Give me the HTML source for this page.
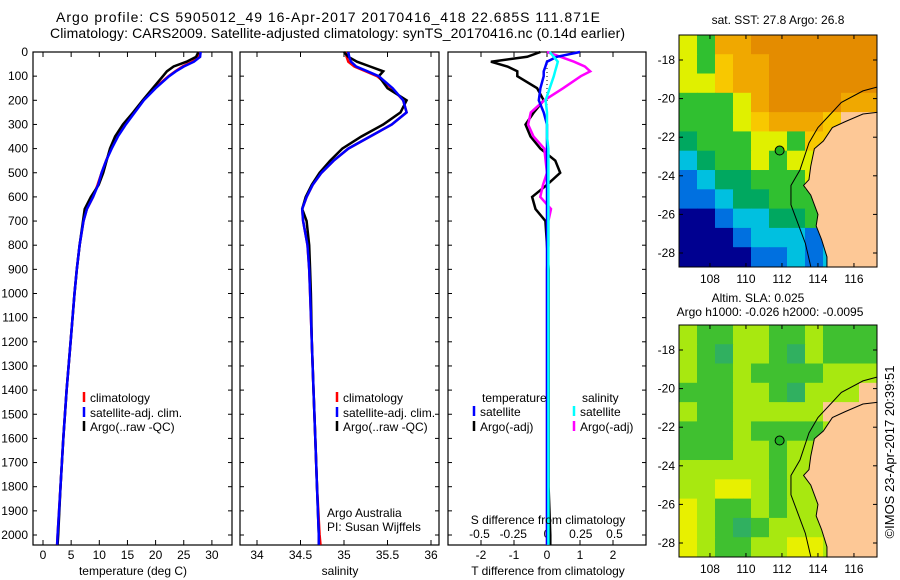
<!DOCTYPE html>
<html><head><meta charset="utf-8"><style>
body{margin:0;background:#fff;}
svg{display:block;font-family:"Liberation Sans",sans-serif;}
text{fill:#000;}
</style></head><body>
<svg id="fig" width="900" height="580" viewBox="0 0 900 580" xmlns="http://www.w3.org/2000/svg">
<text x="56" y="22" font-size="14" textLength="544" lengthAdjust="spacing">Argo profile: CS 5905012_49 16-Apr-2017 20170416_418 22.685S 111.871E</text>
<text x="50" y="38" font-size="14" textLength="575" lengthAdjust="spacing">Climatology: CARS2009. Satellite-adjusted climatology: synTS_20170416.nc (0.14d earlier)</text>
<g id="g1"></g>
<g id="g2"></g>
<g id="g3"></g>
<g id="m1"></g>
<g id="m2"></g>
<text x="778" y="24" font-size="12" text-anchor="middle">sat. SST: 27.8 Argo: 26.8</text>
<text x="758" y="302" font-size="12" text-anchor="middle">Altim. SLA: 0.025</text>
<text x="770" y="316" font-size="12" text-anchor="middle">Argo h1000: -0.026 h2000: -0.0095</text>
<text transform="translate(894,452) rotate(-90)" font-size="13" text-anchor="middle">©IMOS 23-Apr-2017 20:39:51</text>
</svg>
<script>
// ---- data ----
const depthTicks=[0,100,200,300,400,500,600,700,800,900,1000,1100,1200,1300,1400,1500,1600,1700,1800,1900,2000];
const tempTicks=[0,5,10,15,20,25,30];
const salTicks=[34,34.5,35,35.5,36];
const tdiffTicks=[-2,-1,0,1,2];
const sdiffTicks=[-0.5,-0.25,0,0.25,0.5];
const sdiffLabels=["-0.5","-0.25","0","0.25","0.5"];
const depths=[0,20,40,60,80,100,150,200,250,300,350,400,450,500,550,600,650,700,800,900,1000,1200,1400,1600,1800,2000,2040];
const tempClim=[27.8,27.6,26.5,24.8,23.5,22.3,19.8,17.8,16.2,14.6,13.2,12.1,11.2,10.4,9.7,8.9,7.8,7.2,6.5,6.0,5.6,4.9,4.2,3.6,3.1,2.6,2.5];
const tempSat=[28.0,27.9,26.8,25.0,23.6,22.4,20.0,17.9,16.3,14.7,13.3,12.2,11.2,10.4,9.8,8.9,7.8,7.2,6.5,6.0,5.6,4.9,4.2,3.6,3.1,2.6,2.5];
const tempArgo=[27.6,27.2,25.5,23.2,22.0,21.3,19.5,17.7,16.0,14.2,12.8,11.9,11.3,10.7,9.9,8.5,7.4,7.1,6.5,6.0,5.6,4.9,4.2,3.6,3.1,2.7,2.6];
const salClim=[35.02,35.03,35.05,35.12,35.25,35.38,35.55,35.68,35.72,35.55,35.3,35.05,34.88,34.74,34.64,34.57,34.52,34.53,34.58,34.6,34.61,34.63,34.65,34.67,34.69,34.72,34.73];
const salSat=[35.05,35.06,35.08,35.14,35.27,35.4,35.56,35.68,35.72,35.55,35.3,35.05,34.88,34.74,34.64,34.57,34.52,34.53,34.58,34.6,34.61,34.63,34.65,34.67,34.69,34.71,34.71];
const salArgo=[35.0,35.05,35.15,35.3,35.45,35.4,35.5,35.72,35.65,35.45,35.2,34.98,34.84,34.72,34.63,34.56,34.52,34.57,34.6,34.61,34.62,34.63,34.65,34.67,34.69,34.71,34.71];
const tdSat=[1.0,0.3,0.0,-0.05,-0.1,-0.1,-0.2,-0.25,-0.1,0.0,0.0,0.0,0.0,0.0,0.0,0.0,0.0,0.0,0.0,0.0,0.0,0.0,0.0,0.0,0.0,0.0,0.0];
const tdArgo=[-0.2,-0.6,-1.7,-1.2,-0.9,-0.9,-0.3,-0.1,-0.4,-0.65,-0.5,-0.2,0.25,0.4,0.0,-0.45,-0.35,-0.05,0.0,0.05,0.05,0.05,0.05,0.05,0.05,0.1,0.1];
const sdSat=[0.02,0.05,0.08,0.07,0.06,0.05,0.02,-0.01,0.0,0.0,0.0,0.01,0.01,0.01,0.01,0.01,0.01,0.01,0.01,0.01,0.01,0.01,0.01,0.01,0.01,0.01,0.01];
const sdArgo=[0.0,0.1,0.2,0.28,0.32,0.25,0.12,-0.02,-0.12,-0.14,-0.1,-0.02,-0.01,0.0,-0.03,-0.05,0.03,0.01,0.01,0.0,0.0,0.0,0.0,0.0,0.0,0.0,0.0];
// maps: rows lat -17..-28, cols lon 106.8..116.8
const sstRows=["YGooOOOOOOO","YGyooOOOOOO","YYyooOOOOOO","GGGYoOOOOoo","GGGYyoooyLL","gGGGYYGyyLL","cgGGYGYYyLL","bcggGGGYLLL","bbcggGGGgLL","BBbccggGbLL","BBBbcccbcLL","BBBBbbcbcLL"];
const slaRows=["lGGllGGlGGG","lGgllGglGGG","lGGlGGGGlll","GGGllGglllL","lGGlllllLLL","GGGlGGGGlLL","GGGllGlllLL","lllllGllLLL","llYYlGlllLL","YlGGlGlllLL","YlGgGlllLLL","YlGGllYYlLL"];
const argoLon=111.87, argoLat=-22.69;
const landLon=[117.4,116.5,115.5,114.8,114.3,113.8,113.6,113.5,113.2,113.6,114.0,113.9,114.2,114.5,114.5,117.4];
const landLat=[-20.7,-20.8,-21.2,-21.5,-22.2,-22.6,-23.5,-24.2,-24.5,-25.0,-26.0,-26.6,-27.3,-28.2,-28.8,-28.8];
const shelfLon=[117.3,116.5,115.3,114.8,114.0,113.5,113.0,112.5,112.5,112.9,113.3,113.6];
const shelfLat=[-19.4,-19.6,-20.2,-20.7,-21.5,-22.3,-23.7,-24.5,-25.5,-26.5,-27.5,-28.7];
const latTicks=[-18,-20,-22,-24,-26,-28];
const lonTicks=[108,110,112,114,116];

const NS="http://www.w3.org/2000/svg";
function mk(parent,tag,attrs,txt){const e=document.createElementNS(NS,tag);for(const k in attrs)e.setAttribute(k,attrs[k]);if(txt!==undefined)e.textContent=txt;parent.appendChild(e);return e;}
const yD=d=>52+d*0.2415;
const PT=52,PB=545;

function frame(g,x0,x1,xt,xlab,fx){
  const r=mk(g,'rect',{x:x0,y:PT,width:x1-x0,height:PB-PT,fill:'none',stroke:'#000','stroke-width':1.2});
  
  xt.forEach((v,i)=>{const x=fx(v);
    mk(g,'line',{x1:x,x2:x,y1:PT,y2:PT+5,stroke:'#000'});
    mk(g,'line',{x1:x,x2:x,y1:PB,y2:PB-5,stroke:'#000'});
    const t=mk(g,'text',{x:x,y:559,'font-size':12,'text-anchor':'middle'},xlab[i]);
    });
  depthTicks.forEach(d=>{const y=yD(d);
    mk(g,'line',{x1:x0,x2:x0+4,y1:y,y2:y,stroke:'#000'});
    mk(g,'line',{x1:x1,x2:x1-4,y1:y,y2:y,stroke:'#000'});});
}
function line(g,xs,fx,col,name,w){
  const p=xs.map((v,i)=>fx(v).toFixed(1)+','+yD(depths[i]).toFixed(1)).join(' ');
  const e=mk(g,'polyline',{points:p,fill:'none',stroke:col,'stroke-width':w||2.5});
  
}
function legend(g,x,y,col,label,name){
  mk(g,'line',{x1:x,x2:x,y1:y-10,y2:y,stroke:col,'stroke-width':2.5});
  const t=mk(g,'text',{x:x+6,y:y,'font-size':12},label);
  
}
// panel 1
const g1=document.getElementById('g1');const fT=v=>43+v*5.63;
frame(g1,33,232,tempTicks,tempTicks.map(String),fT);
depthTicks.forEach(d=>{const t=mk(g1,'text',{x:28,y:yD(d)+4,'font-size':12,'text-anchor':'end'},String(d));
  });
line(g1,tempClim,fT,'#f00','temp-climatology-line');
line(g1,tempArgo,fT,'#000','temp-argo-line');
line(g1,tempSat,fT,'#00f','temp-satellite-line');
legend(g1,84,402,'#f00','climatology','legend-climatology');
legend(g1,84,417,'#00f','satellite-adj. clim.','legend-satellite');
legend(g1,84,431,'#000','Argo(..raw -QC)','legend-argo');
mk(g1,'text',{x:133,y:575,'font-size':12,'text-anchor':'middle'},'temperature (deg C)');
// panel 2
const g2=document.getElementById('g2');const fS=v=>257+(v-34)*87;
frame(g2,240,439,salTicks,salTicks.map(String),fS);
line(g2,salClim,fS,'#f00','sal-climatology-line');
line(g2,salArgo,fS,'#000','sal-argo-line');
line(g2,salSat,fS,'#00f','sal-satellite-line');
legend(g2,337,402,'#f00','climatology','legend-climatology-2');
legend(g2,337,417,'#00f','satellite-adj. clim.','legend-satellite-2');
legend(g2,337,431,'#000','Argo(..raw -QC)','legend-argo-2');
mk(g2,'text',{x:327,y:517,'font-size':12},'Argo Australia');
mk(g2,'text',{x:327,y:531,'font-size':12},'PI: Susan Wijffels');
mk(g2,'text',{x:340,y:575,'font-size':12,'text-anchor':'middle'},'salinity');
// panel 3
const g3=document.getElementById('g3');const fTd=v=>547+v*33;const fSd=v=>547+v*135;
frame(g3,448,646,tdiffTicks,tdiffTicks.map(String),fTd);
sdiffTicks.forEach((v,i)=>{const t=mk(g3,'text',{x:fSd(v),y:538,'font-size':12,'text-anchor':'middle'},sdiffLabels[i]);
  });
mk(g3,'line',{x1:547,x2:547,y1:PT,y2:PB,stroke:'#000','stroke-dasharray':'1,3'});
line(g3,tdArgo,fTd,'#000','tdiff-argo-line');
line(g3,sdArgo,fSd,'#f0f','sdiff-argo-line');
line(g3,tdSat,fTd,'#00f','tdiff-satellite-line');
line(g3,sdSat,fSd,'#0ff','sdiff-satellite-line');
mk(g3,'text',{x:482,y:402,'font-size':12},'temperature');
mk(g3,'text',{x:582,y:402,'font-size':12},'salinity');
legend(g3,474,416,'#00f','satellite','legend-tdiff-satellite');
legend(g3,474,431,'#000','Argo(-adj)','legend-tdiff-argo');
legend(g3,574,416,'#0ff','satellite','legend-sdiff-satellite');
legend(g3,574,431,'#f0f','Argo(-adj)','legend-sdiff-argo');
mk(g3,'text',{x:548,y:524,'font-size':12,'text-anchor':'middle'},'S difference from climatology');
mk(g3,'text',{x:548,y:575,'font-size':12,'text-anchor':'middle'},'T difference from climatology');
// maps
const sstCol={O:'#e48c00',o:'#f0a800',y:'#f8c800',Y:'#e0f000',G:'#30c030',g:'#00a860',c:'#00c0e0',b:'#0070e0',B:'#000090',L:'#fdc896'};
const slaCol={G:'#40c030',g:'#30b060',l:'#a8e810',Y:'#e8f000',L:'#fdc896'};
function map(id,top,rows,cols){
  const g=document.getElementById(id);
  const L=679,R=877,T=top,B=top+232;
  const fx=lon=>L+(lon-106.28)*18, fy=lat=>T+25+(-18-lat)*19.3;
  rows.forEach((row,r)=>{[...row].forEach((ch,c)=>{
    const lon=106.28+c*1.0, lat=-16.7-r*1.0;
    const e=mk(g,'rect',{x:fx(lon),y:fy(lat),width:18.5,height:20,fill:cols[ch]});
    });});
  const land=mk(g,'polygon',{points:landLon.map((v,i)=>fx(v)+','+fy(landLat[i])).join(' '),fill:'#fdc896',stroke:'#000','stroke-width':1});
  
  const sh=mk(g,'polyline',{points:shelfLon.map((v,i)=>fx(v)+','+fy(shelfLat[i])).join(' '),fill:'none',stroke:'#000','stroke-width':1});
  
  mk(g,'rect',{x:R+0.6,y:T-5,width:12,height:245,fill:'#fff'});
  mk(g,'rect',{x:L,y:B+0.6,width:200,height:12,fill:'#fff'});
  mk(g,'rect',{x:L,y:T,width:R-L,height:B-T,fill:'none',stroke:'#000','stroke-width':1});
  const dot=mk(g,'circle',{cx:fx(argoLon),cy:fy(argoLat),r:4.5,fill:'#20b020',stroke:'#000'});
  
  latTicks.forEach(v=>{const y=fy(v);mk(g,'line',{x1:L,x2:L+4,y1:y,y2:y,stroke:'#000'});mk(g,'line',{x1:R,x2:R-4,y1:y,y2:y,stroke:'#000'});
    const t=mk(g,'text',{x:L-4,y:y+4,'font-size':12,'text-anchor':'end'},String(v));
    });
  lonTicks.forEach(v=>{const x=fx(v);mk(g,'line',{x1:x,x2:x,y1:T,y2:T+4,stroke:'#000'});mk(g,'line',{x1:x,x2:x,y1:B,y2:B-4,stroke:'#000'});
    const t=mk(g,'text',{x:x,y:B+16,'font-size':12,'text-anchor':'middle'},String(v));
    });
}
map('m1',35,sstRows,sstCol);
map('m2',325,slaRows,slaCol);
</script>
</body></html>
